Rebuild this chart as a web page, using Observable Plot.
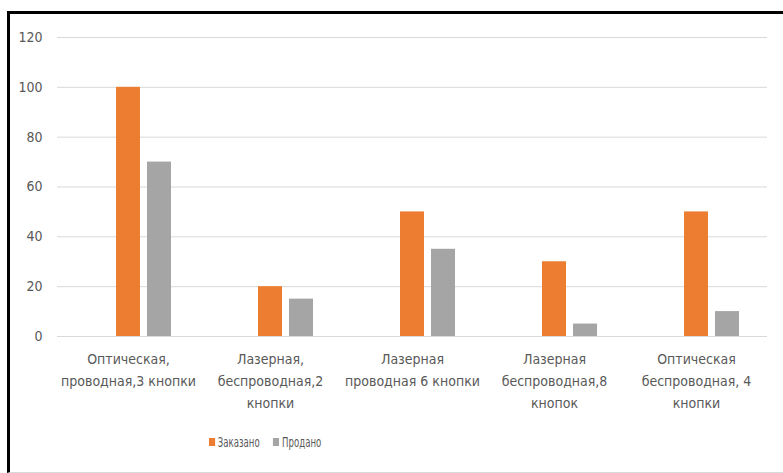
<!DOCTYPE html>
<html>
<head>
<meta charset="utf-8">
<script src="https://cdn.jsdelivr.net/npm/d3@7"></script>
<script src="https://cdn.jsdelivr.net/npm/@observablehq/plot@0.6"></script>
<style>
  html, body { margin: 0; padding: 0; background: #fff; }
  body { width: 783px; height: 473px; position: relative; overflow: hidden;
         font-family: "DejaVu Sans Condensed", sans-serif; }
  #frame { position: absolute; left: 7px; top: 11px; width: 800px; height: 458px;
           border-left: 3px solid #000; border-top: 3px solid #000; border-bottom: 1px solid #d9d9d9; }
  #chart { position: absolute; left: 0; top: 0; }
  #legend { position: absolute; top: 434px; left: 209px; font-size: 14px; color: #595959;
            display: flex; align-items: center; white-space: nowrap;
            transform: scaleX(0.68); transform-origin: left center; }
  #legend .sw { display: inline-block; width: 9px; height: 8px; margin-right: 4px; }
  #legend .item { display: inline-flex; align-items: center; margin-right: 20px; }
</style>
</head>
<body>
<div id="frame"></div>
<div id="chart"></div>
<div id="legend"></div>
<script>
const categories = [
  "Оптическая,\nпроводная,3 кнопки",
  "Лазерная,\nбеспроводная,2\nкнопки",
  "Лазерная\nпроводная 6 кнопки",
  "Лазерная\nбеспроводная,8\nкнопок",
  "Оптическая\nбеспроводная, 4\nкнопки"
];
const seriesNames = ["Заказано", "Продано"];
const ordered = [100, 20, 50, 30, 50];
const sold = [70, 15, 35, 5, 10];
const colors = ["#ED7D31", "#A5A5A5"];
const yTicks = [0, 20, 40, 60, 80, 100, 120];

const data = [];
categories.forEach((c, i) => {
  data.push({cat: c, series: seriesNames[0], value: ordered[i]});
  data.push({cat: c, series: seriesNames[1], value: sold[i]});
});

const chart = Plot.plot({
  width: 783,
  height: 420,
  marginLeft: 57,
  marginRight: 16,
  marginTop: 37,
  marginBottom: 84,
  style: {color: "#595959", fontSize: "14px", fontFamily: "'DejaVu Sans Condensed', sans-serif", background: "transparent"},
  fx: {domain: categories, padding: 0, label: null},
  x: {domain: ["", ...seriesNames], paddingInner: 0.22, paddingOuter: 0.83, axis: null},
  y: {domain: [0, 120], label: null},
  color: {domain: seriesNames, range: colors},
  marks: [
    Plot.gridY(yTicks, {stroke: "#d9d9d9", strokeOpacity: 1, strokeWidth: 1}),
    Plot.barY(data, {fx: "cat", x: "series", y: "value", fill: "series"}),
    Plot.axisY(yTicks, {tickSize: 0, tickPadding: 15, label: null, fontSize: 14}),
    Plot.axisFx({anchor: "bottom", tickSize: 0, tickPadding: 12, lineHeight: 1.58, fontSize: 14, label: null})
  ]
});
document.getElementById("chart").appendChild(chart);

const legend = document.getElementById("legend");
seriesNames.forEach((s, i) => {
  const item = document.createElement("span");
  item.className = "item";
  const sw = document.createElement("span");
  sw.className = "sw";
  sw.style.background = colors[i];
  item.appendChild(sw);
  item.appendChild(document.createTextNode(s));
  legend.appendChild(item);
});
</script>
</body>
</html>
